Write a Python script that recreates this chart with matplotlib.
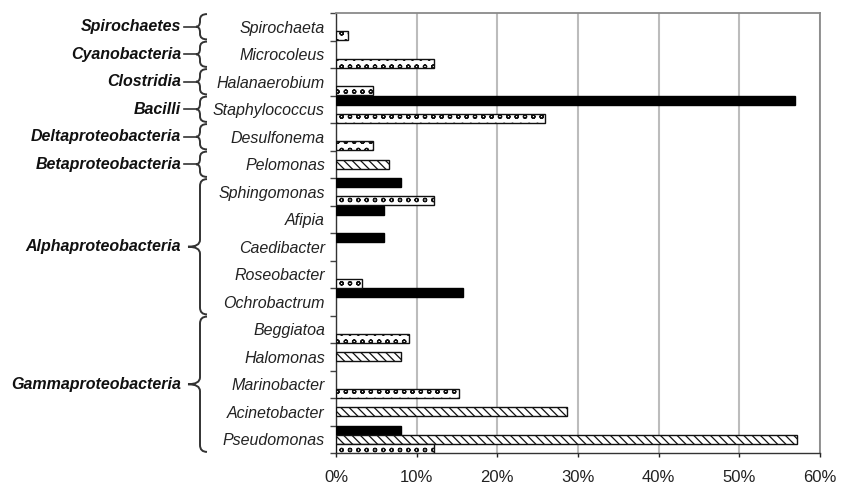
import numpy as np
import matplotlib
matplotlib.use("Agg")
import matplotlib.pyplot as plt
from matplotlib.path import Path
from matplotlib.patches import PathPatch
import matplotlib.transforms as mtransforms

plt.rcParams['font.family'] = ['Liberation Sans', 'DejaVu Sans']
plt.rcParams['hatch.linewidth'] = 0.9

# genera, top to bottom
genera = ["Spirochaeta", "Microcoleus", "Halanaerobium", "Staphylococcus",
          "Desulfonema", "Pelomonas", "Sphingomonas", "Afipia", "Caedibacter",
          "Roseobacter", "Ochrobactrum", "Beggiatoa", "Halomonas",
          "Marinobacter", "Acinetobacter", "Pseudomonas"]

# relative abundance (%) per genus for the three libraries (0 = not found)
lib_black = [0, 0, 0, 56.9, 0, 0, 8.0, 5.9, 5.9, 0, 15.8, 0, 0, 0, 0, 8.0]
lib_hatch = [0, 0, 0, 0, 0, 6.6, 0, 0, 0, 0, 0, 0, 8.0, 0, 28.6, 57.2]
lib_dots = [1.5, 12.2, 4.6, 25.9, 4.6, 0, 12.2, 0, 0, 3.2, 0, 9.1, 0, 15.2, 0, 12.2]

# class name, first genus index, last genus index (exclusive)
classes = ["Spirochaetes", "Cyanobacteria", "Clostridia", "Bacilli",
           "Deltaproteobacteria", "Betaproteobacteria",
           "Alphaproteobacteria", "Gammaproteobacteria"]
class_start = [0, 1, 2, 3, 4, 5, 6, 11]
class_end = [1, 2, 3, 4, 5, 6, 11, 16]

xticks = [0, 10, 20, 30, 40, 50, 60]
xticklabels = ["0%", "10%", "20%", "30%", "40%", "50%", "60%"]

W, H = 844, 487
fig = plt.figure(figsize=(W / 100, H / 100), dpi=100)
ax = fig.add_axes([336 / W, 1 - 453 / H, 484 / W, 440 / H])

n = len(genera)
idx = np.arange(n)
bh = 0.33
series = [
    (lib_black, 1 / 6, dict(color="black", edgecolor="black")),
    (lib_hatch, 0.5, dict(color="white", edgecolor="#111111", hatch="\\\\\\\\")),
    (lib_dots, 5 / 6, dict(color="white", edgecolor="#111111", hatch="oo")),
]
for vals, off, style in series:
    vals = np.array(vals, dtype=float)
    keep = vals > 0
    ax.barh(idx[keep] + off, vals[keep], height=bh, linewidth=1.0,
            zorder=3, **style)

ax.set_xlim(0, 60)
ax.set_ylim(n, 0)
ax.set_xticks(xticks)
ax.set_xticklabels(xticklabels, fontsize=12)
ax.tick_params(axis='x', length=3, width=1, pad=9, colors="#222222")
ax.grid(axis='x', color="#bcbcbc", linewidth=1.5, zorder=0)

# band boundaries as major ticks, genus names as minor ticks
ax.set_yticks(np.arange(n + 1))
ax.set_yticklabels([])
ax.set_yticks(idx + 0.5, minor=True)
ax.set_yticklabels(genera, minor=True, fontsize=11.5, style="italic",
                   color="#222222")
ax.tick_params(axis='y', which='major', length=4, width=1, color="#444444")
ax.tick_params(axis='y', which='minor', length=0, pad=8)

for side in ("top", "right"):
    ax.spines[side].set_color("#8a8a8a")
    ax.spines[side].set_linewidth(1.3)
for side in ("left", "bottom"):
    ax.spines[side].set_color("#333333")
    ax.spines[side].set_linewidth(1.0)

# class braces and labels left of the genus names
trans = mtransforms.blended_transform_factory(fig.transFigure, ax.transData)


def brace(y0, y1, x_line, x_end, x_tip, r):
    ym = (y0 + y1) / 2
    verts = [(x_end, y0), (x_line, y0), (x_line, y0 + r),
             (x_line, ym - r), (x_line, ym), (x_tip, ym),
             (x_line, ym), (x_line, ym + r),
             (x_line, y1 - r), (x_line, y1), (x_end, y1)]
    codes = [Path.MOVETO, Path.CURVE3, Path.CURVE3,
             Path.LINETO, Path.CURVE3, Path.CURVE3,
             Path.CURVE3, Path.CURVE3,
             Path.LINETO, Path.CURVE3, Path.CURVE3]
    verts = [(x / W, y) for x, y in verts]
    fig.patches.append(PathPatch(Path(verts, codes), transform=trans,
                                 fill=False, edgecolor="#333333", lw=1.4))


for name, s, e in zip(classes, class_start, class_end):
    y0, y1 = s + 0.04, e - 0.04
    ym = (s + e) / 2
    if e - s == 1:
        brace(y0, y1, 200, 207, 196, 0.2)
        fig.lines.append(plt.Line2D([184 / W, 196 / W], [ym, ym],
                                    transform=trans, color="#333333", lw=1.2))
    else:
        brace(y0, y1, 200, 207, 188, 0.25)
    fig.text(181 / W, ym, name, transform=trans, ha="right", va="center",
             fontsize=11.5, fontweight="bold", style="italic", color="#111111")

fig.savefig("out.png", dpi=100)
